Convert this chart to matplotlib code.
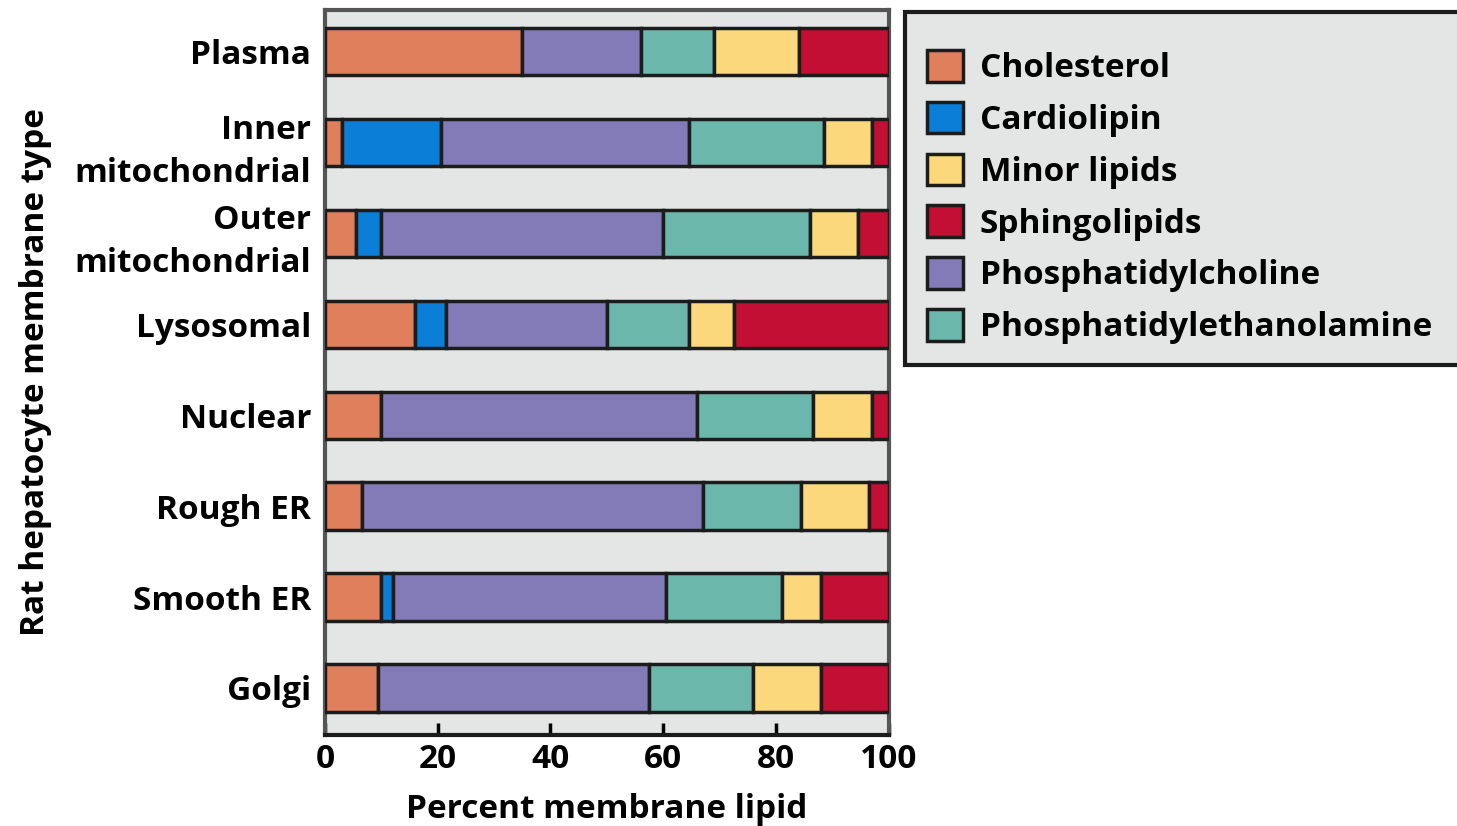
import numpy as np
import matplotlib.pyplot as plt
from matplotlib.patches import Patch, Rectangle

plt.rcParams['font.family'] = ['Open Sans', 'DejaVu Sans']
plt.rcParams['font.weight'] = 'bold'

# Membrane types, top to bottom
membranes = ['Plasma', 'Inner\nmitochondrial', 'Outer\nmitochondrial', 'Lysosomal',
             'Nuclear', 'Rough ER', 'Smooth ER', 'Golgi']

# Percent membrane lipid per class
cholesterol = [35, 3, 5.5, 16, 10, 6.5, 10, 9.5]
cardiolipin = [0, 17.5, 4.5, 5.5, 0, 0, 2, 0]
phosphatidylcholine = [21, 44, 50, 28.5, 56, 60.5, 48.5, 48]
phosphatidylethanolamine = [13, 24, 26, 14.5, 20.5, 17.5, 20.5, 18.5]
minor_lipids = [15, 8.5, 8.5, 8, 10.5, 12, 7, 12]
sphingolipids = [16, 3, 5.5, 27.5, 3, 3.5, 12, 12]

# stacking order left -> right
stack = [
    ('Cholesterol', cholesterol, '#E07F5C'),
    ('Cardiolipin', cardiolipin, '#0B7FD8'),
    ('Phosphatidylcholine', phosphatidylcholine, '#837BB8'),
    ('Phosphatidylethanolamine', phosphatidylethanolamine, '#6BB7AB'),
    ('Minor lipids', minor_lipids, '#FBD87C'),
    ('Sphingolipids', sphingolipids, '#C20F33'),
]
# legend order
legend_order = ['Cholesterol', 'Cardiolipin', 'Minor lipids', 'Sphingolipids',
                'Phosphatidylcholine', 'Phosphatidylethanolamine']

FS = 24
W, H = 1457, 826

fig = plt.figure(figsize=(W / 100, H / 100), dpi=100)
ax = fig.add_axes([0.223, 0.110, 0.387, 0.878])
ax.set_facecolor('#E4E6E6')

y = np.arange(len(membranes))
left = np.zeros(len(membranes))
colors = {}
for name, vals, col in stack:
    vals = np.array(vals, dtype=float)
    mask = vals > 0
    ax.barh(y[mask], vals[mask], left=left[mask], height=0.52, color=col,
            edgecolor='#1c1c1c', linewidth=2.5, zorder=3)
    left += vals
    colors[name] = col

ax.set_xlim(0, 100)
ax.set_ylim(7.52, -0.46)
ax.set_yticks(y)
ax.set_yticklabels(membranes, fontsize=FS, fontweight='bold', linespacing=1.4)
ax.tick_params(axis='y', length=0, pad=10)
ax.set_xticks([0, 20, 40, 60, 80, 100])
ax.tick_params(axis='x', direction='in', length=9, width=2.5, labelsize=FS, pad=6)
for lab in ax.get_xticklabels():
    lab.set_fontweight('bold')

for side in ['left', 'top', 'right']:
    ax.spines[side].set_color('#555555')
    ax.spines[side].set_linewidth(3)
ax.spines['bottom'].set_color('#1c1c1c')
ax.spines['bottom'].set_linewidth(3)

ax.set_xlabel('Percent membrane lipid', fontsize=FS, fontweight='bold', labelpad=12)
ax.set_ylabel('Rat hepatocyte membrane type', fontsize=FS, fontweight='bold', labelpad=16)

# legend box (drawn separately so the padding can match)
fig.patches.append(Rectangle((905 / W, 1 - 365 / H), 0.40, 353 / H,
                             transform=fig.transFigure, facecolor='#E4E6E6',
                             edgecolor='#1c1c1c', linewidth=3, zorder=0))

handles = [Patch(facecolor=colors[n], edgecolor='#1c1c1c', linewidth=2.5, label=n)
           for n in legend_order]
leg = fig.legend(handles=handles, loc='upper left', bbox_to_anchor=(927 / W, 1 - 50 / H),
                 fontsize=FS, frameon=False, handlelength=1.08,
                 handleheight=1.08, labelspacing=0.5, handletextpad=0.5,
                 borderpad=0, borderaxespad=0)
for t in leg.get_texts():
    t.set_fontweight('bold')

fig.savefig('out.png', dpi=100)
